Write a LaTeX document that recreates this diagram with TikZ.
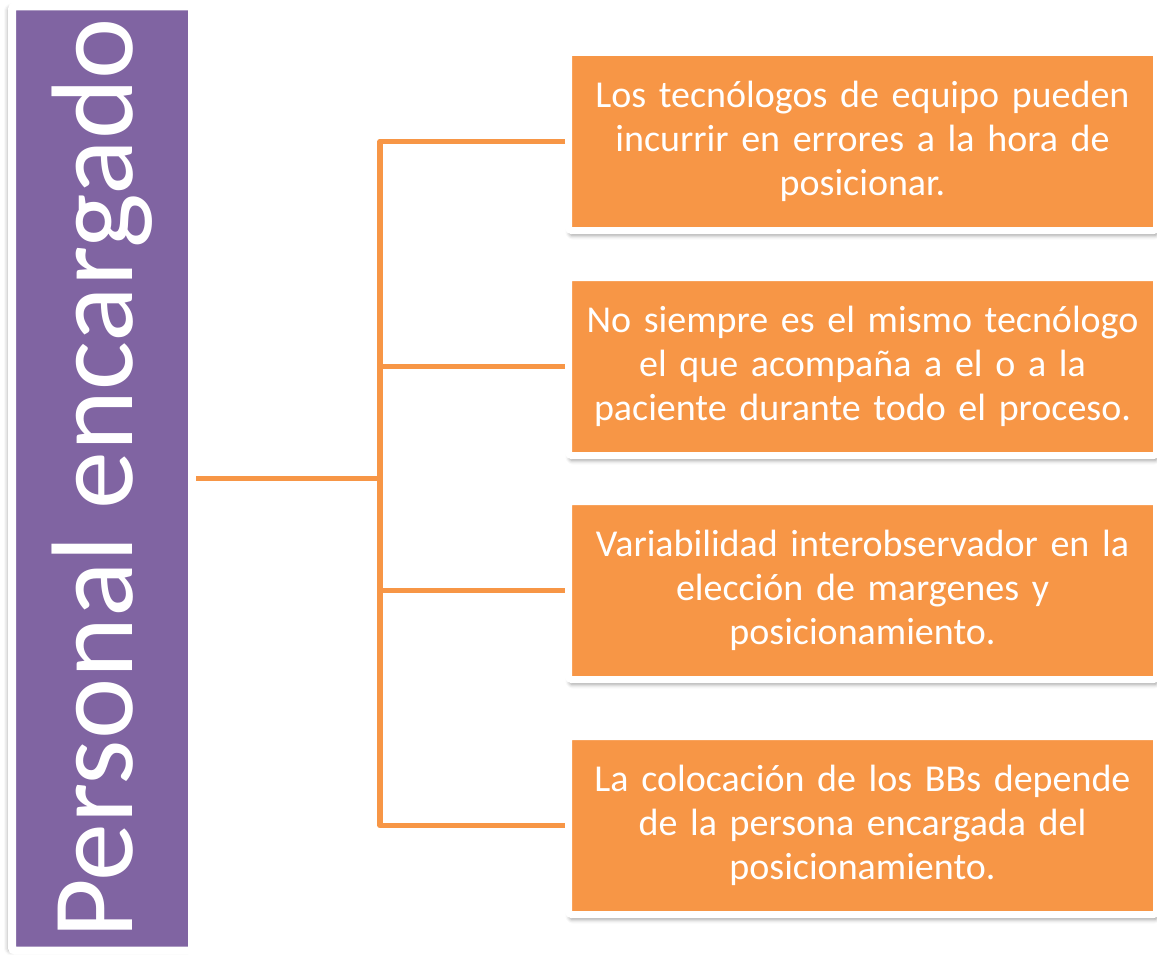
\documentclass[tikz,border=0pt]{standalone}
\usepackage{fontspec}
\setmainfont{Carlito}
\usetikzlibrary{positioning, shadows.blur}
\definecolor{lavender}{HTML}{8064A2}
\definecolor{tangerine}{HTML}{F79646}

\begin{document}
\begin{tikzpicture}[x=1pt, y=1pt,
			frameStyle/.style={draw=white, line width=7pt, rounded corners=3pt, align=center, inner sep=0pt},
			title/.style={frameStyle, fill=lavender, line width=8pt, text=white, rotate=90,
				minimum width=944pt, minimum height=180pt, font=\fontsize{116}{120}\selectfont,
				blur shadow={shadow xshift=-4pt, shadow yshift=-1pt, shadow blur radius=4pt, shadow opacity=35}},
			item/.style={frameStyle, fill=tangerine, text=white, text width=580pt,
				minimum width=588pt, minimum height=178pt, font=\fontsize{38}{44}\selectfont,
				blur shadow={shadow xshift=1pt, shadow yshift=-5pt, shadow blur radius=4pt, shadow opacity=40}},
			link/.style={draw=tangerine, line width=5.5pt, line join=round}]
			
			\useasboundingbox (0,0) rectangle (1157,-955);
			
			\node[title] (title) at (102,-478.5) {Personal encargado};
			
			\node[item] (b1) at (862.5,-141.5) {Los tecnólogos de equipo pueden\\incurrir en errores a la hora de\\posicionar.};
			\node[item, below=40pt of b1] (b2) {No siempre es el mismo tecnólogo\\el que acompaña a el o a la\\paciente durante todo el proceso.};
			\node[item, below=39pt of b2] (b3) {Variabilidad interobservador en la\\elección de margenes y\\posicionamiento.};
			\node[item, below=50pt of b3] (b4) {La colocación de los BBs depende\\de la persona encargada del\\posicionamiento.};
			
			\coordinate (spine) at (380,-478.5);
			
			\draw[link] (title.south) -- (spine);
			\draw[link] (b1.west) -- (b1.west -| spine) -- (b4.west -| spine) -- (b4.west);
			\foreach \value in {2,3}
			\draw[link] (b\value.west -| spine) -- (b\value.west);
		\end{tikzpicture}
\end{document}
